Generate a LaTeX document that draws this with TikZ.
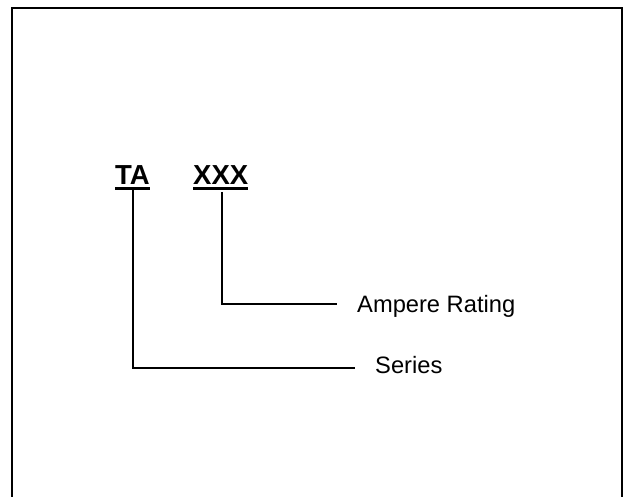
\documentclass[tikz,border=0pt]{standalone}
\usepackage{fontspec}
\setmainfont{Liberation Sans}
\begin{document}
\begin{tikzpicture}[x=1pt,y=-1pt,
  code/.style={inner sep=0pt,anchor=base west,font=\fontsize{27.5}{31}\selectfont\bfseries},
  lbl/.style={inner sep=0pt,anchor=base west,font=\fontsize{23.7}{28}\selectfont},
  ul/.style={line width=2.2pt},
  conn/.style={line width=1.3pt}]
\useasboundingbox (0,0) rectangle (625,497);
\draw[line width=2pt] (12,497) -- (12,8) -- (622,8) -- (622,497);
\node[code] (ta) at (115,185) {TA};
\node[code] (xxx) at (193,185) {XXX};
\draw[ul] ([yshift=-3.5]ta.base west) -- ([yshift=-3.5]ta.base east);
\draw[ul] ([yshift=-3.5]xxx.base west) -- ([yshift=-3.5]xxx.base east);
\node[lbl] (amp) at (357,313) {Ampere Rating};
\node[lbl] (ser) at (375,374) {Series};
\coordinate (tatop) at (133,189);
\coordinate (xxtop) at (222,192);
\coordinate (ampend) at (337,304);
\coordinate (serend) at (355,368);
\draw[conn] (xxtop) |- (ampend);
\draw[conn] (tatop) |- (serend);
\end{tikzpicture}
\end{document}
